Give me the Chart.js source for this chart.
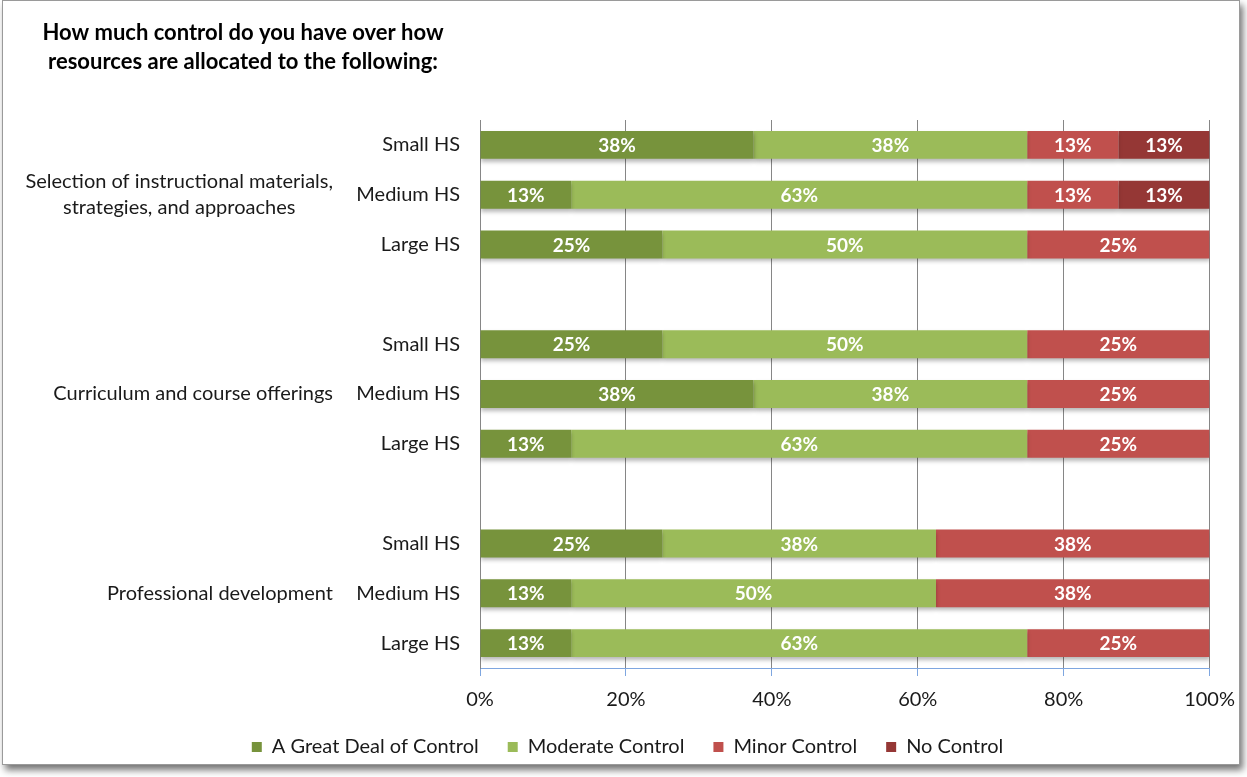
<!DOCTYPE html>
<html><head><meta charset="utf-8">
<script src="https://cdn.jsdelivr.net/npm/chart.js@4.4.1/dist/chart.umd.min.js"></script>
<style>
html,body{margin:0;padding:0;background:#fff;}
#wrap{position:absolute;left:0;top:0;width:1247px;height:777px;}
#frame{position:absolute;left:2px;top:0;width:1236px;height:763px;border:1px solid #9a9a9a;box-shadow:3px 5px 7px rgba(0,0,0,0.55);pointer-events:none;}
</style></head>
<body>
<div id="wrap"><canvas id="c" width="1247" height="777"></canvas><div id="frame"></div></div>
<script>
const titleLines = ["How much control do you have over how", "resources are allocated to the following:"];
const categories = ["Small HS","Medium HS","Large HS","","Small HS","Medium HS","Large HS","","Small HS","Medium HS","Large HS"];
const groupLabels = [
  {lines:["Selection of instructional materials,","strategies, and approaches"], row:1},
  {lines:["Curriculum and course offerings"], row:5},
  {lines:["Professional development"], row:9}
];
const seriesNames = ["A Great Deal of Control","Moderate Control","Minor Control","No Control"];
const greatDeal = [37.5,12.5,25,null,25,37.5,12.5,null,25,12.5,12.5];
const moderate  = [37.5,62.5,50,null,50,37.5,62.5,null,37.5,50,62.5];
const minor     = [12.5,12.5,25,null,25,25,25,null,37.5,37.5,25];
const noControl = [12.5,12.5,0,null,0,0,0,null,0,0,0];
const xTickValues = [0,20,40,60,80,100];
const colors = ["#77933C","#9BBB59","#C0504D","#953735"];

const FONT = "Lato, 'Open Sans', sans-serif";
const TXT = "#1a1a1a";

const titlePlugin = {
  id:'titleDraw',
  afterDraw(chart){
    const ctx = chart.ctx; ctx.save();
    ctx.font = "bold 22px " + FONT; ctx.fillStyle = "#000";
    ctx.textAlign = "center"; ctx.textBaseline = "middle";
    titleLines.forEach((l,i)=>ctx.fillText(l, 243, 33 + i*29));
    ctx.restore();
  }
};
const groupPlugin = {
  id:'groupLabels',
  afterDraw(chart){
    const ctx = chart.ctx, y = chart.scales.y; ctx.save();
    ctx.font = "20px " + FONT; ctx.fillStyle = TXT;
    ctx.textAlign = "center"; ctx.textBaseline = "middle";
    const right = 333;
    groupLabels.forEach(g=>{
      const w = Math.max(...g.lines.map(l=>ctx.measureText(l).width));
      const cx = right - w/2;
      const cy = y.getPixelForValue(g.row);
      const lh = 26;
      g.lines.forEach((l,i)=>ctx.fillText(l, cx, cy + (i - (g.lines.length-1)/2)*lh));
    });
    ctx.restore();
  }
};
const shadowPlugin = {
  id:'barShadow',
  beforeDatasetsDraw(chart){
    const ctx = chart.ctx; ctx.save();
    ctx.shadowColor = "rgba(0,0,0,0.28)"; ctx.shadowBlur = 4; ctx.shadowOffsetY = 3;
  },
  afterDatasetsDraw(chart){ chart.ctx.restore(); }
};
const valuePlugin = {
  id:'values',
  afterDatasetsDraw(chart){
    const ctx = chart.ctx; ctx.save();
    ctx.font = "bold 19px " + FONT; ctx.fillStyle = "#fff";
    ctx.textAlign = "center"; ctx.textBaseline = "middle";
    chart.data.datasets.forEach((ds,di)=>{
      const meta = chart.getDatasetMeta(di);
      meta.data.forEach((el,i)=>{
        const v = ds.data[i];
        if (v == null || v <= 0) return;
        const p = el.getCenterPoint();
        ctx.fillText(Math.round(v) + "%", p.x, p.y + 1);
      });
    });
    ctx.restore();
  }
};

new Chart(document.getElementById('c'), {
  type:'bar',
  data:{
    labels:categories,
    datasets:[greatDeal,moderate,minor,noControl].map((d,i)=>({
      label:seriesNames[i], data:d, backgroundColor:colors[i], borderWidth:0,
      barPercentage:0.56, categoryPercentage:1
    }))
  },
  plugins:[shadowPlugin, valuePlugin, titlePlugin, groupPlugin],
  options:{
    responsive:false, animation:false, indexAxis:'y',
    layout:{padding:{left:40, right:32, top:120, bottom:10}},
    plugins:{
      legend:{position:'bottom',
        labels:{font:{family:FONT,size:20}, color:TXT, boxWidth:10, boxHeight:10, padding:29}},
      tooltip:{enabled:false}
    },
    scales:{
      x:{stacked:true, min:0, max:100,
        afterBuildTicks(s){ s.ticks = xTickValues.map(v=>({value:v})); },
        ticks:{callback:v=>v+"%", font:{family:FONT,size:20}, color:TXT, padding:12, maxRotation:0},
        grid:{color:"#868686", tickColor:"#7EA6E0", tickLength:8, lineWidth:1},
        border:{color:"#7EA6E0", width:1},
        afterFit(s){ s.height = 40; }
      },
      y:{stacked:true,
        ticks:{font:{family:FONT,size:20}, color:TXT, padding:12, autoSkip:false},
        grid:{display:false},
        border:{color:"#868686", width:1},
        afterFit(s){ s.width = 440; }
      }
    }
  }
});
</script>
</body></html>
